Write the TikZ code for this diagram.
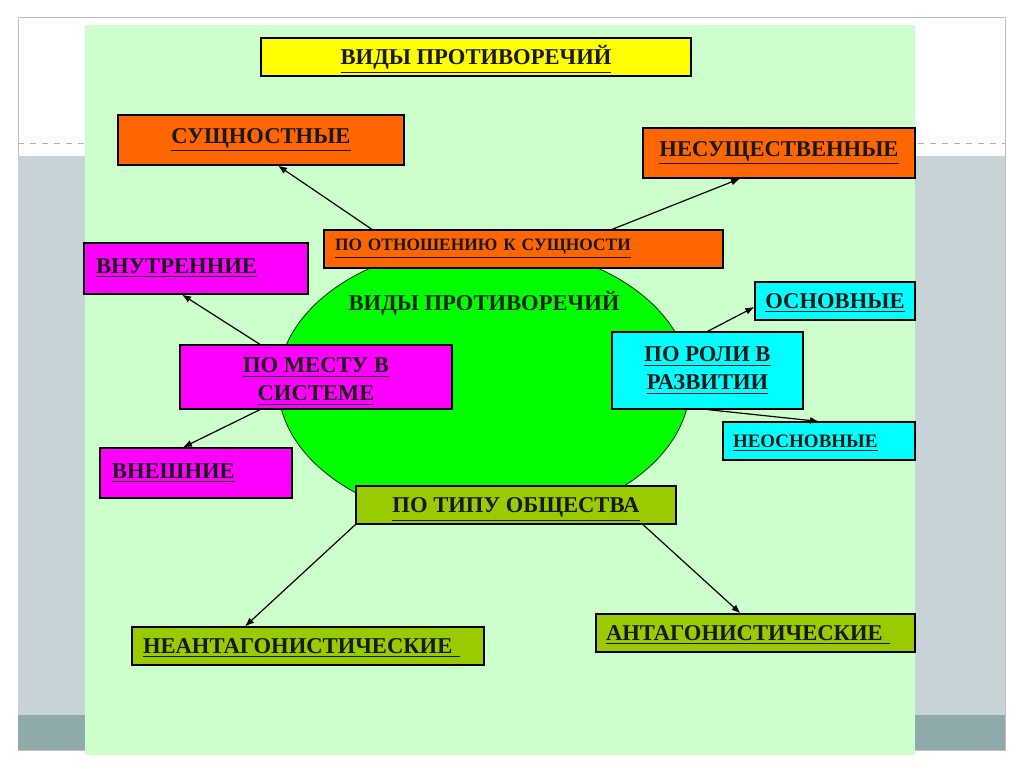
\documentclass[tikz,border=0pt]{standalone}
\usepackage{fontspec}
\setmainfont{Liberation Serif}
\usetikzlibrary{arrows.meta,shapes.geometric}
\definecolor{panel}{HTML}{CCFFCC}
\definecolor{band}{HTML}{C8D3D7}
\definecolor{bandlow}{HTML}{8FAAAB}
\definecolor{orng}{HTML}{FF6600}
\definecolor{yelgrn}{HTML}{99CC00}
\definecolor{kernel}{HTML}{00FF00}
\definecolor{mgnt}{HTML}{FF00FF}
\definecolor{cyn}{HTML}{00FFFF}
\definecolor{ylw}{HTML}{FFFF00}
\begin{document}
\begin{tikzpicture}[x=0.5pt,y=-0.5pt,
  box/.style={draw=black,line width=0.6pt,inner sep=0pt,text=black!90,
    font=\bfseries\fontsize{11.3}{14}\selectfont},
  lbox/.style={box,align=left,inner xsep=5.5pt},
  one/.style={text height=7.5pt,text depth=0pt},
  arr/.style={line width=0.6pt,-{Latex[length=4.5pt,width=3.5pt]}}]
\useasboundingbox (0,0) rectangle (1024,768);
\draw[black!25,fill=white] (18,17) rectangle (1005,750);
\fill[band] (18,156) rectangle (1005,715);
\fill[bandlow] (18,715) rectangle (1005,750);
\draw[dashed,black!30] (18,143) -- (1005,143);
\fill[panel] (85,25) rectangle (915,755);
\node[draw=black!80!green,fill=kernel,ellipse,minimum width=206pt,minimum height=139pt] (core) at (484,384) {};
\node[font=\bfseries\fontsize{11.3}{14}\selectfont,text=black!85!green] (corelbl) at (484,303) {ВИДЫ ПРОТИВОРЕЧИЙ};
\node[box,one,fill=ylw,minimum width=215pt,minimum height=19pt] (title) at (476,57) {\underline{ВИДЫ ПРОТИВОРЕЧИЙ}};
\node[box,fill=orng,minimum width=143pt,minimum height=25pt] (sush) at (261,140) {\underline{СУЩНОСТНЫЕ}};
\node[box,fill=orng,minimum width=136pt,minimum height=25pt] (nesush) at (779,153) {\underline{НЕСУЩЕСТВЕННЫЕ}};
\node[lbox,fill=orng,text width=188.5pt,minimum height=19pt,font=\bfseries\fontsize{8.7}{10}\selectfont] (otn) at (523.5,249) {\underline{ПО ОТНОШЕНИЮ К СУЩНОСТИ}};
\node[lbox,fill=mgnt,inner xsep=6pt,text width=100pt,minimum height=25.5pt] (vnutr) at (196,268.5) {\underline{ВНУТРЕННИЕ}};
\node[box,fill=mgnt,align=center,minimum width=136pt,minimum height=32pt] (mesto) at (316,377) {\rule{0pt}{12pt}\underline{ПО МЕСТУ В}\\\underline{СИСТЕМЕ}};
\node[lbox,fill=mgnt,inner xsep=6pt,text width=84pt,minimum height=25pt] (vnesh) at (196,473) {\underline{ВНЕШНИЕ}};
\node[box,fill=cyn,align=center,minimum width=95.5pt,minimum height=38.5pt] (rol) at (707.5,370.5) {\underline{ПО РОЛИ В}\\\underline{РАЗВИТИИ}};
\node[box,one,fill=cyn,minimum width=80pt,minimum height=19pt] (osn) at (835,301) {\underline{ОСНОВНЫЕ}};
\node[lbox,fill=cyn,inner xsep=5pt,text width=86pt,minimum height=19pt,text height=6.5pt,text depth=0pt,font=\bfseries\fontsize{9.5}{11}\selectfont] (neosn) at (819,441) {\underline{НЕОСНОВНЫЕ}};
\node[box,one,fill=yelgrn,minimum width=160pt,minimum height=19pt] (tip) at (516,505) {\underline{ПО ТИПУ ОБЩЕСТВА}};
\node[lbox,one,fill=yelgrn,text width=165pt,minimum height=19pt] (neant) at (308,646) {\underline{НЕАНТАГОНИСТИЧЕСКИЕ~}};
\node[lbox,one,fill=yelgrn,inner xsep=5pt,text width=149.5pt,minimum height=19pt] (ant) at (755.5,633) {\underline{АНТАГОНИСТИЧЕСКИЕ~}};
\draw[arr] ([shift={(-151.5,0)}]otn.north) -- ([shift={(17,0)}]sush.south);
\draw[arr] ([shift={(88.5,0)}]otn.north) -- ([shift={(-39,0)}]nesush.south);
\draw[arr] ([shift={(-56,0)}]mesto.north) -- ([shift={(-14,0)}]vnutr.south);
\draw[arr] ([shift={(-56,0)}]mesto.south) -- ([shift={(-13,0)}]vnesh.north);
\draw[arr] (rol.north) -- ([shift={(0,6)}]osn.west);
\draw[arr] (rol.south) -- (neosn.north);
\draw[arr] (tip.south west) -- ([shift={(-63,0)}]neant.north);
\draw[arr] ([shift={(127,0)}]tip.south) -- ([shift={(-15,0)}]ant.north);
\end{tikzpicture}
\end{document}
